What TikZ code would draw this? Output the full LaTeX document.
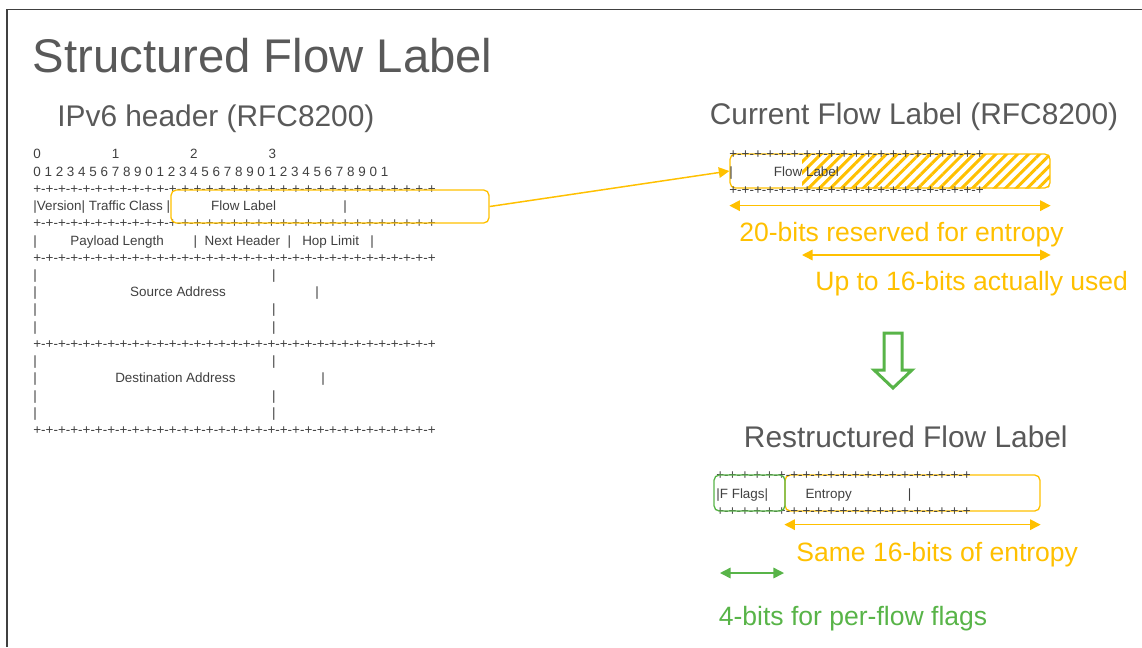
\documentclass[tikz,border=0pt]{standalone}
\usepackage{fontspec}
\setmainfont{Liberation Sans}
\usetikzlibrary{arrows.meta, patterns.meta}

\definecolor{slidegray}{HTML}{595959}
\definecolor{asciigray}{HTML}{404040}
\definecolor{flowyellow}{HTML}{FFC000}
\definecolor{flaggreen}{RGB}{88,180,72}

% n blank characters of the current font, as in the ascii art
\newcommand\blank[1]{\hspace*{#1\fontdimen2\font}}
% +-+-...+ rule for n bits
\newcommand\bitrule[1]{\foreach \k in {1,...,#1}{+-}+}

\begin{document}
\begin{tikzpicture}[x=0.02cm, y=-0.02cm,
    slidetitle/.style={font=\fontsize{26.9}{30}\selectfont, text=slidegray, anchor=base west, inner sep=0pt},
    heading/.style={font=\fontsize{17}{20}\selectfont, text=slidegray, anchor=base west, inner sep=0pt},
    note/.style={font=\fontsize{15.1}{18}\selectfont, anchor=base west, inner sep=0pt},
    ascii/.style={font=\fontsize{7.65}{9}\selectfont, text=asciigray, anchor=base west, inner sep=0pt},
    fieldbox/.style={draw=#1, line width=0.75pt, rounded corners=3pt, inner sep=0pt},
    flowarrow/.style={draw=flowyellow, line width=0.85pt, -{Triangle[length=6pt,width=6pt]}},
    flowdim/.style={draw=flowyellow, line width=0.85pt, {Triangle[length=6pt,width=6pt]}-{Triangle[length=6pt,width=6pt]}},
    flagdim/.style={draw=flaggreen, line width=0.85pt, {Triangle[length=6pt,width=6pt]}-{Triangle[length=6pt,width=6pt]}}]
    \useasboundingbox (0,0) rectangle (1142,647);

    % slide frame
    \draw[black!75, line width=1pt] (7,647) -- (7,9.5) -- (1142,9.5);

    % titles
    \node[slidetitle] (title) at (32.5,72) {Structured Flow Label};
    \node[heading] (ipv6) at (57,126) {IPv6 header (RFC8200)};
    \node[heading] (current) at (709.5,124) {Current Flow Label (RFC8200)};
    \node[heading] (restruct) at (743.6,447) {Restructured Flow Label};

    % IPv6 header as ascii art
    \node[ascii] (row0) at (33,158.8) {0\blank{19}1\blank{19}2\blank{19}3};
    \node[ascii] (row1) at (33,176) {0 1 2 3 4 5 6 7 8 9 0 1 2 3 4 5 6 7 8 9 0 1 2 3 4 5 6 7 8 9 0 1};
    \foreach \i in {2,4,6,11,16}
        \node[ascii] (row\i) at (33,{158.8+17.24*\i}) {\bitrule{32}};
    \node[ascii] (row3) at (33,{158.8+17.24*3}) {|Version| Traffic Class |\blank{11}Flow Label\blank{18}|};
    \node[ascii] (row5) at (33,{158.8+17.24*5}) {|\blank{9}Payload Length\blank{8}|\blank{2}Next Header\blank{2}|\blank{3}Hop Limit\blank{3}|};
    \foreach \i in {7,9,10,12,14,15}
        \node[ascii] (row\i) at (33,{158.8+17.24*\i}) {|\blank{63}|};
    \node[ascii] (row8) at (33,{158.8+17.24*8}) {|\blank{25}Source Address\blank{24}|};
    \node[ascii] (row13) at (33,{158.8+17.24*13}) {|\blank{21}Destination Address\blank{23}|};

    % flow label field in the header
    \node[fieldbox=flowyellow, minimum width=6.36cm, minimum height=0.66cm] (hdrfl) at (330,206.5) {};

    % current flow label
    \node[fieldbox=flowyellow, minimum width=6.4cm, minimum height=0.68cm] (curfl) at (890,171) {};
    \coordinate (hatchstart) at (802,154);
    \begin{scope}
        \clip[rounded corners=3pt] (curfl.south west) rectangle (curfl.north east);
        \fill[pattern={Lines[angle=45, distance=4.4pt, line width=1.7pt]}, pattern color=flowyellow] (hatchstart) rectangle (curfl.south east);
    \end{scope}
    \node[ascii] (curtop) at (729,158.7) {\bitrule{20}};
    \node[ascii] (curtxt) at (729,176) {|\blank{11}Flow Label};
    \node[ascii] (curbot) at (729,194) {\bitrule{20}};
    \draw[flowarrow] (hdrfl.east) -- (curfl.west);

    \draw[flowdim] ([yshift=-0.34cm]curfl.south west) -- ([yshift=-0.34cm]curfl.south east);
    \node[note, text=flowyellow] (reserved) at (739,241.5) {20-bits reserved for entropy};
    \coordinate (usedstart) at (802,255);
    \draw[flowdim] (usedstart) -- (usedstart -| curfl.east);
    \node[note, text=flowyellow] (used) at (815,290.5) {Up to 16-bits actually used};

    % green down arrow
    \draw[flaggreen, line width=1.7pt, fill=white] (884,333) -- (902,333) -- (902,370) -- (912,370) -- (893,388)
        -- (874,370) -- (884,370) -- cycle;

    % restructured flow label
    \node[fieldbox=flowyellow, minimum width=5.1cm, minimum height=0.72cm] (entbox) at (912.5,493) {};
    \node[ascii] (restop) at (716,479.4) {\bitrule{20}};
    \node[ascii] (restxt) at (716,498) {|F Flags|\blank{10}Entropy\blank{15}|};
    \node[ascii] (resbot) at (716,515.4) {\bitrule{20}};
    \node[fieldbox=flaggreen, minimum width=1.42cm, minimum height=0.72cm] (flagbox) at (749.5,493) {};

    \draw[flowdim] ([yshift=-0.26cm]entbox.south west) -- ([yshift=-0.26cm]entbox.south east);
    \node[note, text=flowyellow] (same) at (796,561.5) {Same 16-bits of entropy};
    \coordinate (flagleft) at (720,573);
    \coordinate (flagright) at (784,573);
    \draw[flagdim] (flagleft) -- (flagright);
    \node[note, text=flaggreen] (perflow) at (718.5,625.5) {4-bits for per-flow flags};
\end{tikzpicture}
\end{document}
